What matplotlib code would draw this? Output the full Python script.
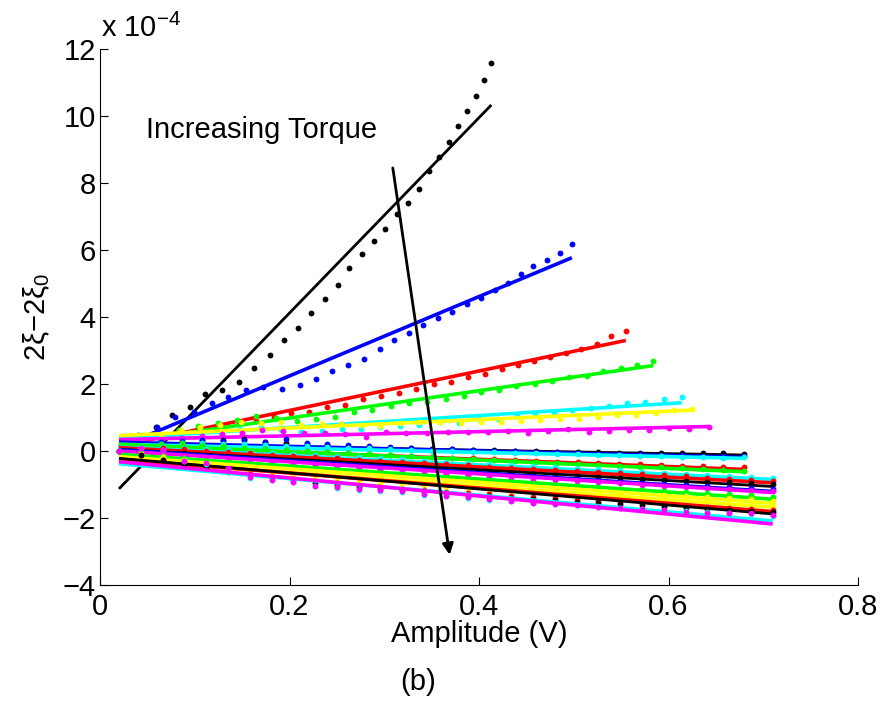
import numpy as np
import matplotlib
matplotlib.use('Agg')
import matplotlib.pyplot as plt

plt.rcParams['font.family'] = ['Liberation Sans', 'DejaVu Sans']
plt.rcParams['mathtext.default'] = 'regular'
plt.rcParams['axes.unicode_minus'] = True

# MATLAB style colour cycle (pure rgb)
C = {'k': '#000000', 'b': '#0000ff', 'r': '#ff0000', 'g': '#00ff00',
     'c': '#00ffff', 'y': '#ffff00', 'm': '#ff00ff'}

# ---- upper group (positive slope), values in units of 1e-4 ----
bk_x = [0.020, 0.040, 0.059, 0.076, 0.095, 0.111, 0.129, 0.147, 0.163, 0.179, 0.194, 0.209, 0.223, 0.237, 0.251,
        0.263, 0.276, 0.289, 0.301, 0.313, 0.325, 0.337, 0.347, 0.358, 0.368, 0.378, 0.387, 0.397, 0.405, 0.413]
bk_y = [0.00, 0.35, 0.71, 1.07, 1.30, 1.70, 1.82, 2.05, 2.47, 2.87, 3.31, 3.67, 4.13, 4.55, 4.95,
        5.46, 5.87, 6.26, 6.64, 7.06, 7.39, 7.82, 8.35, 8.78, 9.23, 9.69, 10.14, 10.60, 11.06, 11.59]

bu_x = [0.020, 0.040, 0.060, 0.079, 0.099, 0.118, 0.135, 0.154, 0.172, 0.192, 0.211, 0.228, 0.245, 0.262, 0.279,
        0.295, 0.310, 0.326, 0.341, 0.357, 0.372, 0.387, 0.402, 0.417, 0.431, 0.444, 0.457, 0.472, 0.486, 0.498]
bu_y = [0.00, 0.48, 0.71, 1.00, 1.17, 1.44, 1.60, 1.82, 1.90, 1.86, 1.96, 2.16, 2.38, 2.57, 2.74,
        3.03, 3.30, 3.52, 3.77, 3.96, 4.16, 4.39, 4.57, 4.80, 5.02, 5.28, 5.53, 5.70, 5.91, 6.18]

rd_x = [0.020, 0.040, 0.060, 0.082, 0.103, 0.127, 0.147, 0.165, 0.184, 0.202, 0.221, 0.240, 0.259, 0.278, 0.297,
        0.316, 0.334, 0.352, 0.370, 0.388, 0.406, 0.424, 0.441, 0.458, 0.475, 0.492, 0.508, 0.525, 0.539, 0.555]
rd_y = [0.00, 0.30, 0.50, 0.61, 0.70, 0.78, 0.87, 0.90, 1.02, 1.12, 1.17, 1.30, 1.37, 1.55, 1.65,
        1.73, 1.86, 1.99, 2.07, 2.22, 2.30, 2.44, 2.57, 2.70, 2.81, 2.93, 3.04, 3.20, 3.43, 3.57]

gr_x = [0.020, 0.042, 0.062, 0.083, 0.103, 0.124, 0.145, 0.165, 0.186, 0.208, 0.228, 0.248, 0.268, 0.287, 0.307,
        0.326, 0.345, 0.365, 0.384, 0.402, 0.421, 0.439, 0.459, 0.477, 0.495, 0.514, 0.531, 0.550, 0.567, 0.584]
gr_y = [0.00, 0.25, 0.45, 0.62, 0.75, 0.85, 0.93, 1.04, 0.98, 0.90, 0.96, 1.02, 1.16, 1.22, 1.35,
        1.42, 1.45, 1.55, 1.65, 1.76, 1.82, 1.95, 2.01, 2.10, 2.20, 2.25, 2.39, 2.47, 2.57, 2.69]

cy_x = [0.020, 0.040, 0.062, 0.084, 0.105, 0.127, 0.148, 0.170, 0.191, 0.212, 0.234, 0.255, 0.275, 0.296, 0.317,
        0.337, 0.359, 0.379, 0.400, 0.420, 0.440, 0.459, 0.479, 0.498, 0.518, 0.537, 0.556, 0.575, 0.595, 0.614]
cy_y = [0.00, 0.20, 0.35, 0.45, 0.52, 0.58, 0.66, 0.71, 0.63, 0.58, 0.60, 0.65, 0.65, 0.73, 0.76,
        0.78, 0.87, 0.85, 0.95, 0.96, 1.04, 1.07, 1.14, 1.22, 1.27, 1.35, 1.43, 1.47, 1.54, 1.62]

ye_x = [0.020, 0.042, 0.064, 0.085, 0.106, 0.127, 0.149, 0.170, 0.191, 0.212, 0.234, 0.254, 0.276, 0.296, 0.317,
        0.337, 0.359, 0.381, 0.402, 0.423, 0.444, 0.464, 0.485, 0.506, 0.526, 0.546, 0.566, 0.587, 0.606, 0.625]
ye_y = [0.00, 0.30, 0.50, 0.62, 0.72, 0.78, 0.88, 0.85, 0.88, 0.78, 0.80, 0.80, 0.78, 0.75, 0.83,
        0.87, 0.86, 0.83, 0.87, 0.86, 0.90, 0.91, 0.96, 0.96, 1.00, 1.07, 1.06, 1.14, 1.22, 1.25]

mg_x = [0.020, 0.043, 0.065, 0.086, 0.108, 0.129, 0.150, 0.171, 0.193, 0.215, 0.237, 0.259, 0.281, 0.302, 0.323,
        0.345, 0.367, 0.388, 0.409, 0.431, 0.452, 0.473, 0.494, 0.516, 0.537, 0.558, 0.579, 0.601, 0.622, 0.643]
mg_y = [0.00, 0.20, 0.32, 0.40, 0.45, 0.50, 0.55, 0.63, 0.61, 0.53, 0.53, 0.51, 0.41, 0.57, 0.55,
        0.55, 0.58, 0.58, 0.58, 0.60, 0.55, 0.61, 0.66, 0.58, 0.61, 0.63, 0.63, 0.68, 0.66, 0.73]

upper_colors = ['k', 'b', 'r', 'g', 'c', 'y', 'm']
upper_x = [bk_x, bu_x, rd_x, gr_x, cy_x, ye_x, mg_x]
upper_y = [bk_y, bu_y, rd_y, gr_y, cy_y, ye_y, mg_y]
# linear fit, value at first and last amplitude
upper_fit_start = [-1.13, 0.11, 0.15, 0.25, 0.38, 0.46, 0.34]
upper_fit_end = [10.33, 5.77, 3.30, 2.55, 1.44, 1.22, 0.73]

# ---- lower group (negative slope) ----
amp_a = [0.020, 0.043, 0.066, 0.089, 0.112, 0.135, 0.158, 0.181, 0.204, 0.227, 0.250, 0.273, 0.296, 0.319, 0.342,
         0.365, 0.388, 0.411, 0.434, 0.457, 0.480, 0.503, 0.526, 0.549, 0.572, 0.595, 0.618, 0.641, 0.664, 0.687, 0.710]
amp_b = [0.020, 0.042, 0.064, 0.086, 0.108, 0.130, 0.152, 0.174, 0.196, 0.218, 0.240, 0.262, 0.284, 0.306, 0.328,
         0.350, 0.372, 0.394, 0.416, 0.438, 0.460, 0.482, 0.504, 0.526, 0.548, 0.570, 0.592, 0.614, 0.636, 0.658, 0.680]

lo1_y = [0.00, 0.14, 0.22, 0.28, 0.31, 0.33, 0.35, 0.27, 0.25, 0.22, 0.19, 0.15, 0.13, 0.10, 0.09, 0.06,
         0.05, 0.03, 0.02, 0.00, -0.01, -0.02, -0.04, -0.03, -0.05, -0.06, -0.05, -0.07, -0.06, -0.07, -0.09]
lo2_y = [0.00, 0.17, 0.26, 0.31, 0.33, 0.30, 0.32, 0.28, 0.35, 0.23, 0.20, 0.17, 0.14, 0.12, 0.09, 0.07,
         0.05, 0.03, 0.01, -0.01, -0.03, -0.04, -0.06, -0.08, -0.09, -0.10, -0.12, -0.13, -0.14, -0.15, -0.16]
lo3_y = [0.00, 0.12, 0.20, 0.24, 0.25, 0.22, 0.20, 0.18, 0.16, 0.14, 0.12, 0.10, 0.08, 0.06, 0.03, 0.01,
         0.00, -0.02, -0.04, -0.06, -0.07, -0.09, -0.10, -0.12, -0.13, -0.15, -0.16, -0.17, -0.19, -0.20, -0.19]
lo4_y = [0.00, 0.10, 0.16, 0.18, 0.12, 0.09, 0.06, 0.05, 0.02, -0.01, -0.04, -0.06, -0.10, -0.12, -0.14, -0.17,
         -0.20, -0.22, -0.24, -0.27, -0.29, -0.32, -0.33, -0.36, -0.38, -0.40, -0.43, -0.44, -0.45, -0.47, -0.48]
lo5_y = [0.00, 0.14, 0.22, 0.25, 0.18, 0.15, 0.10, 0.07, 0.04, 0.00, -0.03, -0.06, -0.09, -0.12, -0.15, -0.18,
         -0.21, -0.24, -0.27, -0.30, -0.33, -0.36, -0.38, -0.41, -0.44, -0.47, -0.49, -0.52, -0.55, -0.57, -0.60]
lo6_y = [0.00, 0.08, 0.12, 0.10, 0.05, 0.02, -0.02, -0.06, -0.09, -0.12, -0.15, -0.19, -0.22, -0.25, -0.29, -0.32,
         -0.35, -0.38, -0.42, -0.45, -0.48, -0.51, -0.55, -0.58, -0.62, -0.66, -0.70, -0.73, -0.76, -0.79, -0.81]
lo7_y = [0.00, 0.06, 0.09, 0.05, 0.01, -0.03, -0.07, -0.11, -0.15, -0.19, -0.22, -0.26, -0.29, -0.33, -0.36, -0.40,
         -0.43, -0.47, -0.50, -0.53, -0.57, -0.60, -0.63, -0.67, -0.70, -0.73, -0.76, -0.80, -0.83, -0.86, -0.89]
lo8_y = [0.00, 0.03, 0.00, -0.06, -0.12, -0.18, -0.23, -0.28, -0.33, -0.37, -0.40, -0.44, -0.47, -0.50, -0.54, -0.57,
         -0.60, -0.63, -0.66, -0.69, -0.72, -0.75, -0.78, -0.81, -0.84, -0.87, -0.89, -0.92, -0.94, -0.96, -0.98]
lo9_y = [0.00, 0.02, -0.03, -0.10, -0.16, -0.22, -0.28, -0.33, -0.38, -0.42, -0.46, -0.50, -0.54, -0.57, -0.61, -0.65,
         -0.68, -0.72, -0.75, -0.78, -0.82, -0.85, -0.88, -0.92, -0.95, -0.98, -1.01, -1.04, -1.07, -1.10, -1.13]
lo10_y = [0.00, -0.02, -0.08, -0.15, -0.22, -0.28, -0.34, -0.39, -0.43, -0.48, -0.52, -0.55, -0.59, -0.63, -0.66, -0.70,
          -0.73, -0.77, -0.80, -0.84, -0.87, -0.91, -0.94, -0.97, -1.01, -1.04, -1.07, -1.10, -1.13, -1.16, -1.18]
lo11_y = [0.00, -0.05, -0.14, -0.22, -0.30, -0.37, -0.43, -0.49, -0.54, -0.59, -0.63, -0.67, -0.71, -0.75, -0.79, -0.83,
          -0.87, -0.90, -0.94, -0.98, -1.01, -1.05, -1.08, -1.12, -1.15, -1.19, -1.22, -1.26, -1.29, -1.32, -1.36]
lo12_y = [0.00, -0.08, -0.18, -0.28, -0.37, -0.45, -0.52, -0.58, -0.64, -0.69, -0.74, -0.78, -0.83, -0.87, -0.91, -0.95,
          -0.99, -1.03, -1.06, -1.10, -1.14, -1.17, -1.21, -1.24, -1.28, -1.31, -1.35, -1.38, -1.41, -1.44, -1.48]
lo13_y = [0.00, -0.12, -0.25, -0.36, -0.46, -0.55, -0.63, -0.70, -0.76, -0.81, -0.86, -0.91, -0.95, -0.99, -1.03, -1.07,
          -1.11, -1.15, -1.18, -1.22, -1.26, -1.29, -1.33, -1.36, -1.40, -1.43, -1.46, -1.50, -1.53, -1.56, -1.60]
lo14_y = [0.00, -0.13, -0.27, -0.40, -0.51, -0.61, -0.70, -0.78, -0.85, -0.91, -0.97, -1.02, -1.07, -1.12, -1.16, -1.21,
          -1.25, -1.29, -1.33, -1.37, -1.41, -1.45, -1.49, -1.52, -1.56, -1.60, -1.63, -1.66, -1.69, -1.72, -1.75]
lo15_y = [0.00, -0.12, -0.26, -0.39, -0.51, -0.62, -0.72, -0.80, -0.88, -0.95, -1.01, -1.07, -1.12, -1.17, -1.22, -1.26,
          -1.31, -1.35, -1.39, -1.43, -1.47, -1.51, -1.55, -1.59, -1.62, -1.66, -1.69, -1.72, -1.75, -1.78, -1.81]
lo16_y = [0.00, 0.08, 0.02, -0.30, -0.40, -0.55, -0.80, -0.88, -0.93, -1.05, -1.10, -1.17, -1.20, -1.22, -1.30, -1.35,
          -1.40, -1.45, -1.50, -1.55, -1.58, -1.62, -1.66, -1.69, -1.73, -1.77, -1.80, -1.83, -1.86, -1.89, -1.95]
lo17_y = [0.00, 0.10, 0.03, -0.30, -0.37, -0.52, -0.79, -0.87, -0.92, -1.04, -1.08, -1.14, -1.17, -1.19, -1.28, -1.33,
          -1.37, -1.43, -1.48, -1.54, -1.59, -1.61, -1.66, -1.71, -1.74, -1.76, -1.81, -1.86, -1.84, -1.86, -1.91]

lower_colors = ['k', 'b', 'c', 'r', 'g', 'c', 'r', 'k', 'b', 'm', 'g', 'y', 'y', 'r', 'k', 'c', 'm']
lower_amp = [amp_b, amp_b, amp_b, amp_b, amp_b] + [amp_a] * 12
lower_y = [lo1_y, lo2_y, lo3_y, lo4_y, lo5_y, lo6_y, lo7_y, lo8_y, lo9_y,
           lo10_y, lo11_y, lo12_y, lo13_y, lo14_y, lo15_y, lo16_y, lo17_y]
lower_fit_start = [0.22, 0.26, 0.20, 0.16, 0.20, 0.12, 0.10, 0.05, 0.04, 0.00, -0.10, -0.17, -0.28, -0.25, -0.22, -0.38, -0.32]
lower_fit_end = [-0.12, -0.19, -0.22, -0.55, -0.62, -0.85, -0.95, -1.06, -1.21, -1.24, -1.44, -1.56, -1.68, -1.81, -1.88, -2.09, -2.18]

# arrow for "increasing torque"
arrow_from = (0.309, 8.45)
arrow_to = (0.369, -3.1)

fig = plt.figure(figsize=(8.82, 7.02), dpi=100)
ax = fig.add_axes([0.1134, 0.1667, 0.8594, 0.7635])

colors = upper_colors + lower_colors
xs = upper_x + lower_amp
ys = upper_y + lower_y
f0 = upper_fit_start + lower_fit_start
f1 = upper_fit_end + lower_fit_end

for col, x, y, a, b in zip(colors, xs, ys, f0, f1):
    n = len(y)
    x = np.asarray(x[:n])
    ax.plot(x, y, 'o', color=C[col], ms=4.2, mew=0)
    lw = 2.0 if col == 'k' else 2.6
    ax.plot([x[0], x[-1]], [a, b], '-', color=C[col], lw=lw, solid_capstyle='butt')

ax.annotate('', xy=arrow_to, xytext=arrow_from,
            arrowprops=dict(arrowstyle='-|>', color='k', lw=2.0, mutation_scale=16,
                            shrinkA=0, shrinkB=0))
ax.text(0.049, 9.35, 'Increasing Torque', fontsize=21, va='baseline', ha='left')

ax.set_xlim(0, 0.8)
ax.set_ylim(-4, 12)
ax.set_xticks([0, 0.2, 0.4, 0.6, 0.8])
ax.set_xticklabels(['0', '0.2', '0.4', '0.6', '0.8'])
ax.set_yticks([-4, -2, 0, 2, 4, 6, 8, 10, 12])
ax.set_yticklabels(['\u22124', '\u22122', '0', '2', '4', '6', '8', '10', '12'])
ax.spines['top'].set_visible(False)
ax.spines['right'].set_visible(False)
for s in ['left', 'bottom']:
    ax.spines[s].set_linewidth(0.8)
ax.tick_params(direction='in', length=6, width=0.8, labelsize=21)
ax.tick_params(axis='x', pad=6)
ax.tick_params(axis='y', pad=3)

ax.text(0.001, 1.012, 'x 10$^{-4}$', transform=ax.transAxes, fontsize=21, ha='left', va='bottom')

ax.set_xlabel('Amplitude (V)', fontsize=21)
ax.xaxis.set_label_coords(0.5, -0.065)
ax.set_ylabel('2ξ\u22122ξ$_0$', fontsize=21)
ax.yaxis.set_label_coords(-0.063, 0.5)

fig.text(418 / 882, 1 - 668 / 702, '(b)', fontsize=21, ha='center', va='top')

fig.savefig('out.png', dpi=100)
